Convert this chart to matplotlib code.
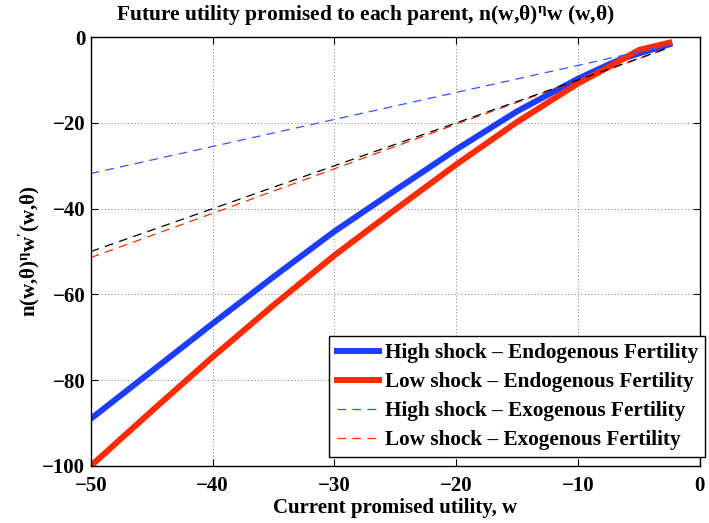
import matplotlib
matplotlib.use("Agg")
import matplotlib.pyplot as plt

plt.rcParams['font.family'] = ['Liberation Serif', 'DejaVu Serif']
plt.rcParams['font.weight'] = 'bold'
plt.rcParams['mathtext.fontset'] = 'custom'
plt.rcParams['mathtext.rm'] = 'Liberation Serif:bold'
plt.rcParams['mathtext.it'] = 'Liberation Serif:bold'
plt.rcParams['mathtext.bf'] = 'Liberation Serif:bold'

# values
w_endo = [-50, -45, -40, -35, -30, -25, -20, -15, -10, -7.5, -6.5, -5, -2.5]
high_endo = [-89, -77.9, -66.8, -55.9, -45.3, -35.7, -26.2, -17.3, -9.7, -6.4, -5.2, -3.8, -1.7]
low_endo = [-100, -87.2, -74.6, -62.5, -50.9, -40.2, -29.7, -19.8, -10.8, -7.0, -5.4, -3.0, -1.3]

w_exo = [-50, -40, -30, -20, -10, -2.5]
high_exo = [-31.8, -25.5, -19.2, -12.9, -6.6, -1.8]
low_exo = [-51.4, -41.1, -30.7, -20.3, -10.1, -2.5]
ref_exo = [-50, -40, -30, -20, -10, -2.4]

xticks = [-50, -40, -30, -20, -10, 0]
yticks = [-100, -80, -60, -40, -20, 0]

fig = plt.figure(figsize=(7.09, 5.23), dpi=100)
ax = fig.add_axes([0.128, 0.109, 0.859, 0.82])

blue = '#1c3cff'
red = '#ff2a00'

ax.plot(w_endo, high_endo, color=blue, lw=4.3, label='High shock \u2013 Endogenous Fertility')
ax.plot(w_endo, low_endo, color=red, lw=4.3, label='Low shock \u2013 Endogenous Fertility')
ax.plot(w_exo, high_exo, color='#3355ff', lw=0.9, dashes=(7, 5), label='High shock \u2013 Exogenous Fertility')
ax.plot(w_exo, low_exo, color=red, lw=0.9, dashes=(7, 5), label='Low shock \u2013 Exogenous Fertility')
ax.plot(w_exo, ref_exo, color='k', lw=0.9, dashes=(7, 5))

ax.set_xlim(-50, 0)
ax.set_ylim(-100, 0)
ax.set_xticks(xticks)
ax.set_yticks(yticks)
ax.set_xticklabels(['\u2212%d' % -t if t else '0' for t in xticks])
ax.set_yticklabels(['\u2212%d' % -t if t else '0' for t in yticks])
ax.tick_params(direction='in', top=True, right=True, labelsize=15, length=5)
ax.tick_params(axis='x', pad=7)
ax.tick_params(axis='y', pad=4)
ax.grid(True, linestyle=(0, (1, 3)), color='k', lw=0.6, alpha=0.7)
for s in ax.spines.values():
    s.set_linewidth(1.0)

ax.set_title(r'Future utility promised to each parent, n(w,$\theta$)$^{\eta}$w (w,$\theta$)',
             fontsize=15.5, fontweight='bold', pad=12, x=0.45)
ax.set_xlabel('Current promised utility, w', fontsize=15, fontweight='bold', labelpad=2)
ax.set_ylabel(r"n(w,$\theta$)$^{\eta}$w$^{\prime}$(w,$\theta$)", fontsize=15, fontweight='bold', labelpad=0)

leg = ax.legend(loc='lower right', bbox_to_anchor=(1.016, 0.01), fontsize=15.3,
                frameon=True, fancybox=False, framealpha=1, edgecolor='k',
                handlelength=2.0, borderaxespad=0.2, labelspacing=0.42, handletextpad=0.25,
                borderpad=0.35)
leg.get_frame().set_linewidth(1.0)

fig.savefig('out.png', dpi=100)
